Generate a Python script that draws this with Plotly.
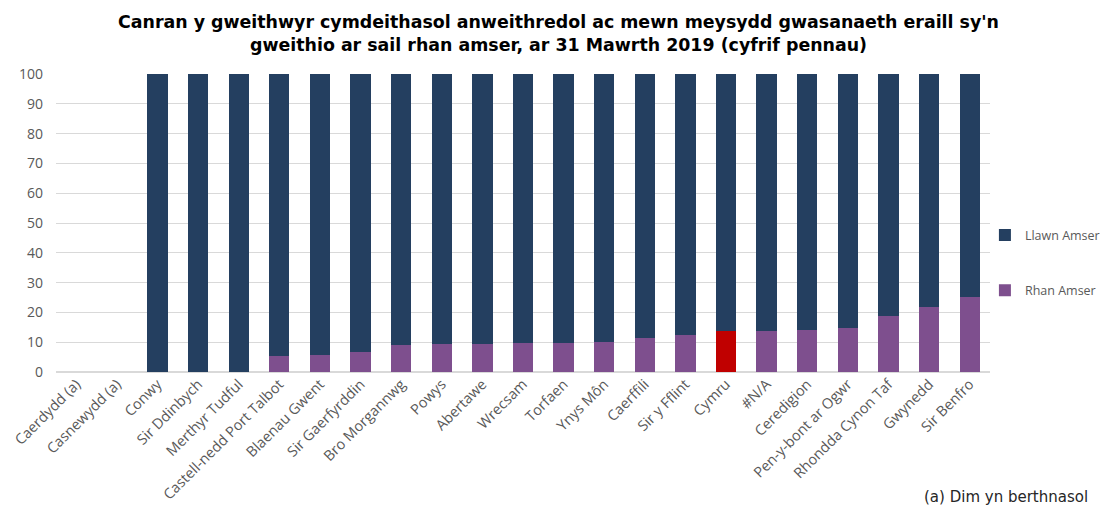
import plotly.graph_objects as go

# -- DATA --

areas = [
    "Caerdydd (a)", "Casnewydd (a)", "Conwy", "Sir Ddinbych", "Merthyr Tudful",
    "Castell-nedd Port Talbot", "Blaenau Gwent", "Sir Gaerfyrddin", "Bro Morgannwg",
    "Powys", "Abertawe", "Wrecsam", "Torfaen", "Ynys Môn", "Caerffili", "Sir y Fflint",
    "Cymru", "#N/A", "Ceredigion", "Pen-y-bont ar Ogwr", "Rhondda Cynon Taf",
    "Gwynedd", "Sir Benfro",
]

rhan_amser = [
    None, None, 0, 0, 0,
    5.5, 5.8, 6.7, 9.0,
    9.3, 9.3, 9.8, 9.8, 10.1, 11.5, 12.4,
    13.9, 13.8, 14.2, 14.8, 18.7,
    21.8, 25.1,
]

llawn_amser = [None if v is None else round(100 - v, 1) for v in rhan_amser]

title_text = ("Canran y gweithwyr cymdeithasol anweithredol ac mewn meysydd gwasanaeth eraill sy'n<br>"
              "gweithio ar sail rhan amser, ar 31 Mawrth 2019 (cyfrif pennau)")
footnote = "(a) Dim yn berthnasol"

# -- STYLE --

NAVY = "#243F60"
PURPLE = "#7E4F8E"
RED = "#C00000"
GREY_TXT = "#595959"

# page body adds 8px offset, so figure is 8px smaller than the window
W, H = 1100, 502

rhan_colors = [RED if a == "Cymru" else PURPLE for a in areas]

fig = go.Figure()

fig.add_trace(go.Bar(
    x=areas,
    y=rhan_amser,
    name="Rhan Amser",
    marker=dict(color=rhan_colors, line=dict(width=0)),
    legendgroup="rhan",
    legendrank=2,
))

fig.add_trace(go.Bar(
    x=areas,
    y=llawn_amser,
    name="Llawn Amser",
    marker=dict(color=NAVY, line=dict(width=0)),
    legendgroup="llawn",
    legendrank=1,
))

fig.update_layout(
    barmode="stack",
    bargap=0.5,
    width=W,
    height=H,
    plot_bgcolor="white",
    paper_bgcolor="white",
    margin=dict(l=48, r=0, t=66, b=138, autoexpand=False),
    font=dict(family="Open Sans, Noto Sans, sans-serif", size=13, color=GREY_TXT),
    legend=dict(
        x=0.883,
        y=0.366,
        xanchor="left",
        yanchor="middle",
        traceorder="grouped",
        tracegroupgap=36,
        font=dict(size=12.5, color=GREY_TXT),
        itemwidth=30,
        bgcolor="rgba(0,0,0,0)",
    ),
    showlegend=True,
)

fig.update_yaxes(
    range=[0, 100],
    dtick=10,
    showgrid=True,
    gridcolor="#D9D9D9",
    gridwidth=1,
    zeroline=True,
    zerolinecolor="#D9D9D9",
    showline=False,
    ticks="",
    ticklabelstandoff=12,
    tickfont=dict(size=14, color=GREY_TXT),
)

fig.update_xaxes(
    domain=[0, 0.8878],
    tickangle=-45,
    showline=False,
    ticks="",
    tickfont=dict(size=14.5, color=GREY_TXT),
)

fig.add_annotation(
    text=title_text,
    xref="paper", yref="paper",
    x=0.478, y=1.215,
    xanchor="center", yanchor="top",
    showarrow=False,
    font=dict(family="DejaVu Sans, Verdana, sans-serif", size=17.4, color="black", weight="bold"),
)

fig.add_annotation(
    text=footnote,
    xref="paper", yref="paper",
    x=0.983, y=-0.419,
    xanchor="right", yanchor="middle",
    showarrow=False,
    font=dict(family="DejaVu Sans, Verdana, sans-serif", size=15, color="#262626"),
)

fig.write_html("out.html")
